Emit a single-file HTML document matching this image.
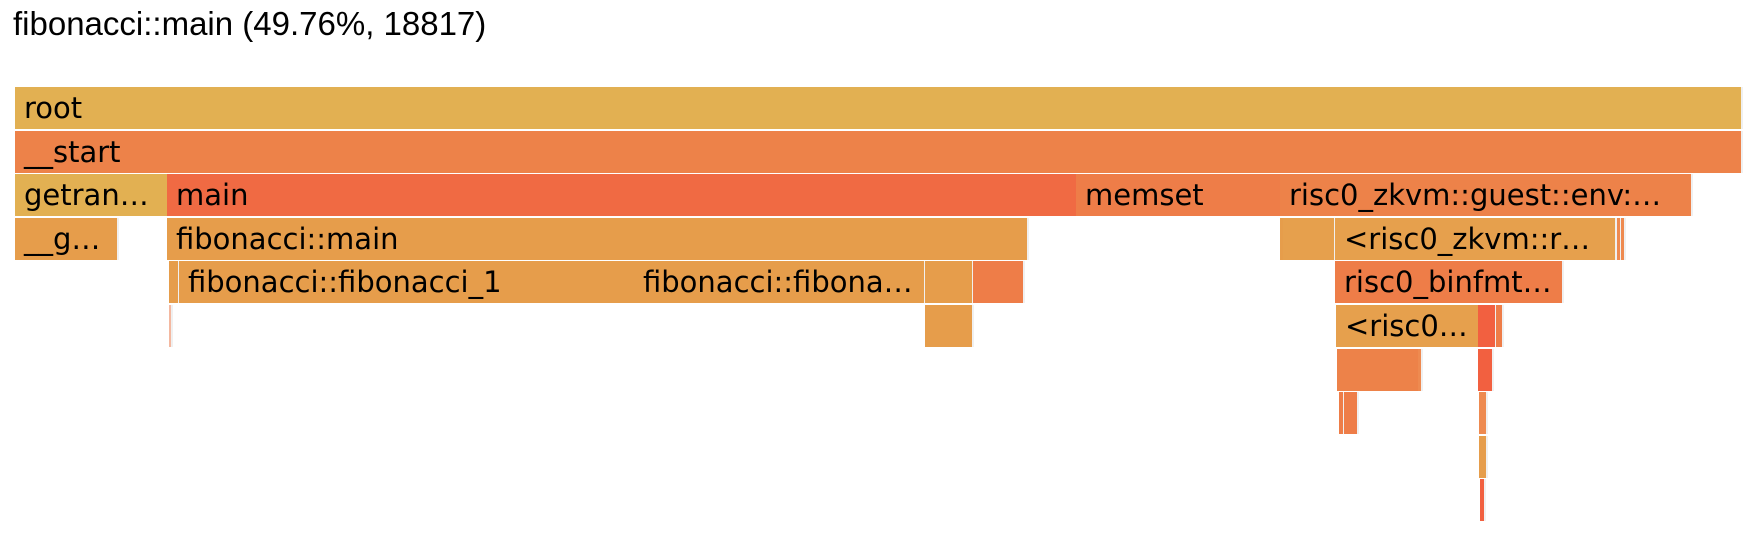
<!DOCTYPE html>
<html><head><meta charset="utf-8"><style>
body{margin:0;background:#fff;width:1753px;height:546px;overflow:hidden;position:relative}
#title{position:absolute;left:13px;top:5px;font:33px "Liberation Sans",sans-serif;color:#000;white-space:nowrap}
.f{position:absolute;box-sizing:border-box;overflow:hidden;white-space:nowrap;font:29px "DejaVu Sans",sans-serif;color:#000;padding-left:9px;border-right:2px solid #f0f0f0}
</style></head><body>
<div id="title">fibonacci::main (49.76%, 18817)</div>
<div id="fg"></div>
<script>
const names=["root","__start","getran…","main","memset","risc0_zkvm::guest::env:…","__g…","fibonacci::main","","","<risc0_zkvm::r…","","","","fibonacci::fibonacci_1","fibonacci::fibona…","","","risc0_binfmt…","","","<risc0…","","","","","","","","","",""];
const starts=[15,15,15,167,1076,1280,15,167,1280,1283,1335,1617,1621,169,179,634,925,973,1335,169,925,1336,1478,1496,1337,1418,1478,1339,1344,1347,1479,1479,1480];
const widths=[1726,1726,152,911,204,411,102,860,3,51,280,3,3,9,455,290,47,50,227,2,47,142,17,6,82,3,14,4,3,10,7,7,4];
const depths=[0,1,2,2,2,2,3,3,3,3,3,3,3,4,4,4,4,4,4,5,5,5,5,5,6,6,6,7,7,7,7,8,9];
const colors=["#e2b052","#ed8249","#e2b052","#f06a43","#ee7d48","#ed8249","#e69d4b","#e69d4b","#e69d4b","#e6a04d","#e6a04d","#ee8a50","#ee8a50","#e69d4b","#e69d4b","#e69d4b","#e69d4b","#ee7d48","#ee7d48","#f4b8a0","#e69d4b","#e6a04d","#f26040","#ee7d48","#ed8249","#ee8a50","#f26040","#ee7d48","#ee7d48","#ee7d48","#ee8a50","#e69d4b","#f26040"];
names.push("");
const fg=document.getElementById('fg');
const y0=87,pitch=43.6,h=42;
for(let i=0;i<starts.length;i++){
  const el=document.createElement('div');
  el.className='f';
  
  
  el.style.left=starts[i]+'px';
  el.style.top=(y0+depths[i]*pitch)+'px';
  el.style.width=(widths[i]+2)+'px';
  el.style.height=h+'px';
  el.style.lineHeight=h+'px';
  el.style.background=colors[i];
  if(widths[i]<20)el.style.padding='0';
  el.textContent=names[i]||'';
  fg.appendChild(el);
}
</script>
</body></html>
